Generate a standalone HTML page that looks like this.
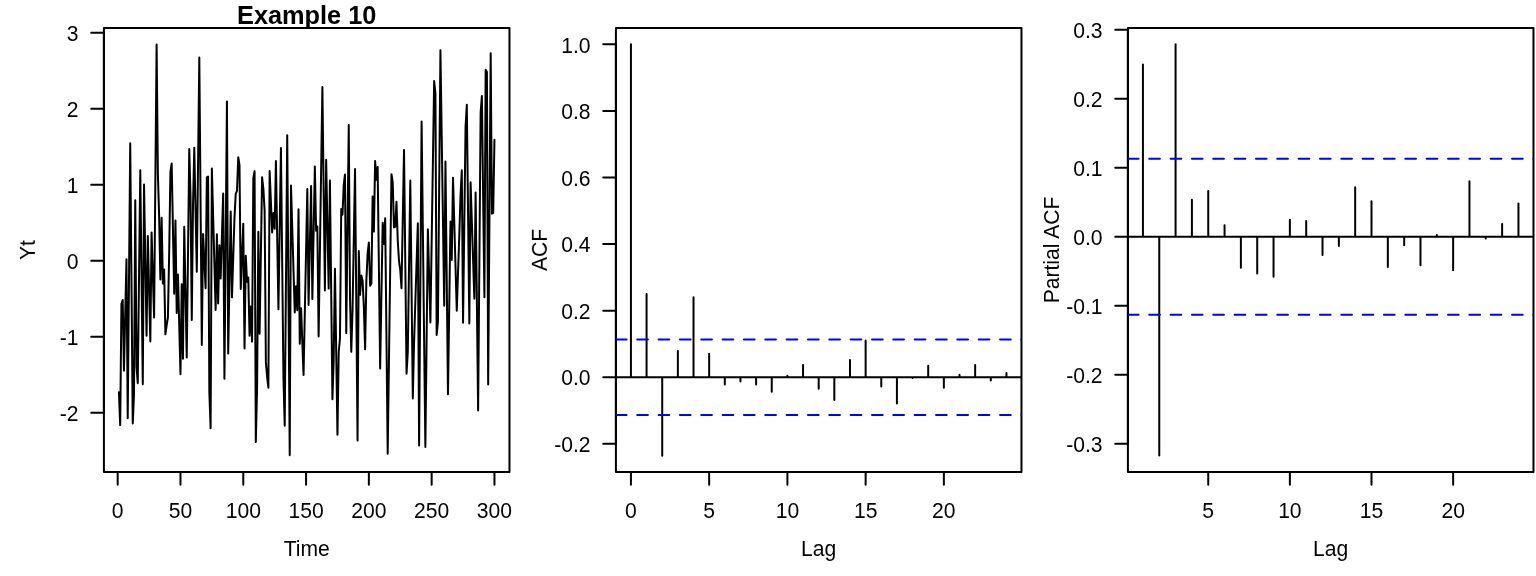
<!DOCTYPE html><html><head><meta charset="utf-8"><title>Example 10</title><style>html,body{margin:0;padding:0;background:#fff}svg{display:block}text{font-family:"Liberation Sans",sans-serif;fill:#000}</style></head><body>
<svg width="1536" height="576" viewBox="0 0 1536 576">
<rect width="1536" height="576" fill="#fff"/>
<defs><clipPath id="c0"><rect x="103.91" y="27.88" width="405.56" height="444.21"/></clipPath><clipPath id="c1"><rect x="615.91" y="27.88" width="405.56" height="444.21"/></clipPath><clipPath id="c2"><rect x="1127.91" y="27.88" width="405.56" height="444.21"/></clipPath></defs>
<g fill="none" stroke="#000" stroke-width="2" stroke-linecap="round" stroke-linejoin="round">
<rect x="103.91" y="27.88" width="405.56" height="444.21"/>
<path d="M117.68 472.09H494.45M117.68 472.09v12.67M180.47 472.09v12.67M243.27 472.09v12.67M306.06 472.09v12.67M368.86 472.09v12.67M431.65 472.09v12.67M494.45 472.09v12.67M103.91 412.80V32.80M103.91 412.80h-12.67M103.91 336.80h-12.67M103.91 260.80h-12.67M103.91 184.80h-12.67M103.91 108.80h-12.67M103.91 32.80h-12.67"/>
<path d="M118.93 392.36 L120.19 425.11 L121.44 303.74 L122.70 300.02 L123.95 370.62 L125.21 314.99 L126.47 259.36 L127.72 418.27 L128.98 280.75 L130.23 143.23 L131.49 283.37 L132.75 423.52 L134.00 394.56 L135.26 200.23 L136.51 367.20 L137.77 383.16 L139.03 276.76 L140.28 170.36 L141.54 277.25 L142.79 384.15 L144.05 184.50 L145.30 260.08 L146.56 335.66 L147.82 236.10 L149.07 288.84 L150.33 341.59 L151.58 232.38 L152.84 274.94 L154.10 317.50 L155.35 181.00 L156.61 44.50 L157.86 173.40 L159.12 215.20 L160.38 279.50 L161.63 217.63 L162.89 283.60 L164.14 269.39 L165.40 334.37 L166.66 325.02 L167.91 317.50 L169.17 253.20 L170.42 171.88 L171.68 163.52 L172.93 228.58 L174.19 293.63 L175.45 220.52 L176.70 313.01 L177.96 274.40 L179.21 324.37 L180.47 374.34 L181.73 284.36 L182.98 358.76 L184.24 226.75 L185.49 292.11 L186.75 357.47 L188.01 253.24 L189.26 149.00 L190.52 196.20 L191.77 320.00 L193.03 203.80 L194.28 147.79 L195.54 209.77 L196.80 271.74 L198.05 164.62 L199.31 57.50 L200.56 201.25 L201.82 345.01 L203.08 233.90 L204.33 261.07 L205.59 288.24 L206.84 177.35 L208.10 176.52 L209.36 393.04 L210.61 428.23 L211.87 168.46 L213.12 215.61 L214.38 262.75 L215.64 309.90 L216.89 234.28 L218.15 303.59 L219.40 245.22 L220.66 278.58 L221.91 236.10 L223.17 193.62 L224.43 378.75 L225.68 240.13 L226.94 101.50 L228.19 353.52 L229.45 282.46 L230.71 211.40 L231.96 297.36 L233.22 257.80 L234.47 218.24 L235.73 193.92 L236.99 190.88 L238.24 157.21 L239.50 165.04 L240.75 289.00 L242.01 256.32 L243.27 223.64 L244.52 348.50 L245.78 255.63 L247.03 281.78 L248.29 277.52 L249.54 335.66 L250.80 306.40 L252.06 341.59 L253.31 178.26 L254.57 171.12 L255.82 441.98 L257.08 388.48 L258.34 231.77 L259.59 333.76 L260.85 255.56 L262.10 177.35 L263.36 188.60 L264.62 210.64 L265.87 361.88 L267.13 377.08 L268.38 387.64 L269.64 171.12 L270.89 201.82 L272.15 232.53 L273.41 213.00 L274.66 228.73 L275.92 161.01 L277.17 235.11 L278.43 309.21 L279.69 228.61 L280.94 148.02 L282.20 262.93 L283.45 377.84 L284.71 425.72 L285.97 280.48 L287.22 135.25 L288.48 295.19 L289.73 455.13 L290.99 185.48 L292.25 227.79 L293.50 270.10 L294.76 312.40 L296.01 286.26 L297.27 310.20 L298.52 209.27 L299.78 343.72 L301.04 308.15 L302.29 341.59 L303.55 375.03 L304.80 313.01 L306.06 251.00 L307.32 188.98 L308.57 304.88 L309.83 245.49 L311.08 186.09 L312.34 299.03 L313.60 232.76 L314.85 166.48 L316.11 230.78 L317.36 226.52 L318.62 336.50 L319.87 253.33 L321.13 170.16 L322.39 86.99 L323.64 188.75 L324.90 290.52 L326.15 159.72 L327.41 224.17 L328.67 288.62 L329.92 180.47 L331.18 289.87 L332.43 399.27 L333.69 359.60 L334.95 268.78 L336.20 351.77 L337.46 434.76 L338.71 352.00 L339.97 338.32 L341.23 208.97 L342.48 214.74 L343.74 184.80 L344.99 174.46 L346.25 333.15 L347.50 229.07 L348.76 124.99 L350.02 298.80 L351.27 351.85 L352.53 310.20 L353.78 239.60 L355.04 168.99 L356.30 304.77 L357.55 440.54 L358.81 251.00 L360.06 294.85 L361.32 275.62 L362.58 280.56 L363.83 306.40 L365.09 349.34 L366.34 281.32 L367.60 253.96 L368.86 242.41 L370.11 285.73 L371.37 283.60 L372.62 196.50 L373.88 231.62 L375.13 161.01 L376.39 179.78 L377.65 167.02 L378.90 267.75 L380.16 368.49 L381.41 295.61 L382.67 222.72 L383.93 244.08 L385.18 218.24 L386.44 336.04 L387.69 453.84 L388.95 360.64 L390.21 267.44 L391.46 174.24 L392.72 182.52 L393.97 227.51 L395.23 226.60 L396.48 201.75 L397.74 240.28 L399.00 260.80 L400.25 269.92 L401.51 288.24 L402.76 219.11 L404.02 149.99 L405.28 261.86 L406.53 373.74 L407.79 352.00 L409.04 266.23 L410.30 180.47 L411.56 289.49 L412.81 398.51 L414.07 342.12 L415.32 302.50 L416.58 262.88 L417.84 223.26 L419.09 445.48 L420.35 283.49 L421.60 121.49 L422.86 229.99 L424.11 338.50 L425.37 447.00 L426.63 338.13 L427.88 229.26 L429.14 275.89 L430.39 322.51 L431.65 242.00 L432.91 161.49 L434.16 80.98 L435.42 93.60 L436.67 334.98 L437.93 321.60 L439.19 185.94 L440.44 50.28 L441.70 135.43 L442.95 220.57 L444.21 305.72 L445.46 161.47 L446.72 277.86 L447.98 394.26 L449.23 307.88 L450.49 221.51 L451.74 259.89 L453.00 177.73 L454.26 222.07 L455.51 266.40 L456.77 310.73 L458.02 273.23 L459.28 235.72 L460.54 194.68 L461.79 170.36 L463.05 322.74 L464.30 224.51 L465.56 126.28 L466.82 104.77 L468.07 214.14 L469.33 323.50 L470.58 182.37 L471.84 221.13 L473.09 259.89 L474.35 298.65 L475.61 192.40 L476.86 301.46 L478.12 410.52 L479.37 261.56 L480.63 112.60 L481.89 96.03 L483.14 196.69 L484.40 297.36 L485.65 69.74 L486.91 72.02 L488.17 384.38 L489.42 218.81 L490.68 53.24 L491.93 213.68 L493.19 212.92 L494.45 139.73"/>
<rect x="615.91" y="27.88" width="405.56" height="444.21"/>
<path d="M630.93 472.09H943.86M630.93 472.09v12.67M709.16 472.09v12.67M787.40 472.09v12.67M865.63 472.09v12.67M943.86 472.09v12.67M615.91 443.83V44.35M615.91 443.83h-12.67M615.91 377.25h-12.67M615.91 310.67h-12.67M615.91 244.09h-12.67M615.91 177.51h-12.67M615.91 110.93h-12.67M615.91 44.35h-12.67"/>
<path clip-path="url(#c1)" d="M630.93 377.25V44.35M646.58 377.25V294.09M662.22 377.25V455.65M677.87 377.25V350.95M693.52 377.25V297.25M709.16 377.25V353.75M724.81 377.25V384.57M740.46 377.25V381.51M756.10 377.25V384.57M771.75 377.25V391.76M787.40 377.25V375.75M803.04 377.25V365.00M818.69 377.25V388.74M834.33 377.25V399.99M849.98 377.25V360.01M865.63 377.25V340.40M881.27 377.25V386.50M896.92 377.25V403.38M912.57 377.25V377.92M928.21 377.25V365.76M943.86 377.25V387.74M959.51 377.25V374.85M975.15 377.25V365.00M990.80 377.25V380.51M1006.45 377.25V372.92M615.91 377.25H1021.47"/>
<rect x="1127.91" y="27.88" width="405.56" height="444.21"/>
<path d="M1208.24 472.09H1453.14M1208.24 472.09v12.67M1289.87 472.09v12.67M1371.50 472.09v12.67M1453.14 472.09v12.67M1127.91 443.75V29.75M1127.91 443.75h-12.67M1127.91 374.75h-12.67M1127.91 305.75h-12.67M1127.91 236.75h-12.67M1127.91 167.75h-12.67M1127.91 98.75h-12.67M1127.91 29.75h-12.67"/>
<path clip-path="url(#c2)" d="M1142.93 236.75V64.53M1159.26 236.75V455.62M1175.58 236.75V44.31M1191.91 236.75V199.70M1208.24 236.75V191.00M1224.56 236.75V225.30M1240.89 236.75V267.80M1257.22 236.75V273.53M1273.54 236.75V276.77M1289.87 236.75V219.78M1306.20 236.75V221.02M1322.52 236.75V255.03M1338.85 236.75V246.06M1355.18 236.75V187.21M1371.50 236.75V201.28M1387.83 236.75V266.97M1404.16 236.75V245.17M1420.48 236.75V265.32M1436.81 236.75V235.03M1453.14 236.75V270.22M1469.46 236.75V181.27M1485.79 236.75V238.47M1502.12 236.75V223.99M1518.45 236.75V203.49M1127.91 236.75H1533.47"/>
</g>
<g fill="none" stroke="#0000ff" stroke-width="2" stroke-linecap="round" stroke-dasharray="10.67 10.67">
<path clip-path="url(#c1)" d="M615.91 339.58H1021.47M615.91 414.92H1021.47"/>
<path clip-path="url(#c2)" d="M1127.91 158.67H1533.47M1127.91 314.83H1533.47"/>
</g>
<g style="will-change:transform">
<text transform="translate(117.68 518.2) scale(1 1.055)" text-anchor="middle" font-size="21.12">0</text>
<text transform="translate(180.47 518.2) scale(1 1.055)" text-anchor="middle" font-size="21.12">50</text>
<text transform="translate(243.27 518.2) scale(1 1.055)" text-anchor="middle" font-size="21.12">100</text>
<text transform="translate(306.06 518.2) scale(1 1.055)" text-anchor="middle" font-size="21.12">150</text>
<text transform="translate(368.86 518.2) scale(1 1.055)" text-anchor="middle" font-size="21.12">200</text>
<text transform="translate(431.65 518.2) scale(1 1.055)" text-anchor="middle" font-size="21.12">250</text>
<text transform="translate(494.45 518.2) scale(1 1.055)" text-anchor="middle" font-size="21.12">300</text>
<text transform="translate(78.57 421.00) scale(1 1.055)" text-anchor="end" font-size="21.12">-2</text>
<text transform="translate(78.57 345.00) scale(1 1.055)" text-anchor="end" font-size="21.12">-1</text>
<text transform="translate(78.57 269.00) scale(1 1.055)" text-anchor="end" font-size="21.12">0</text>
<text transform="translate(78.57 193.00) scale(1 1.055)" text-anchor="end" font-size="21.12">1</text>
<text transform="translate(78.57 117.00) scale(1 1.055)" text-anchor="end" font-size="21.12">2</text>
<text transform="translate(78.57 41.00) scale(1 1.055)" text-anchor="end" font-size="21.12">3</text>
<text transform="translate(306.69 556.4) scale(1 1.055)" text-anchor="middle" font-size="21.12">Time</text>
<text transform="translate(34.98 249.98) rotate(-90) scale(1 1.055)" text-anchor="middle" font-size="21.12">Yt</text>
<text transform="translate(630.93 518.2) scale(1 1.055)" text-anchor="middle" font-size="21.12">0</text>
<text transform="translate(709.16 518.2) scale(1 1.055)" text-anchor="middle" font-size="21.12">5</text>
<text transform="translate(787.40 518.2) scale(1 1.055)" text-anchor="middle" font-size="21.12">10</text>
<text transform="translate(865.63 518.2) scale(1 1.055)" text-anchor="middle" font-size="21.12">15</text>
<text transform="translate(943.86 518.2) scale(1 1.055)" text-anchor="middle" font-size="21.12">20</text>
<text transform="translate(590.57 452.03) scale(1 1.055)" text-anchor="end" font-size="21.12">-0.2</text>
<text transform="translate(590.57 385.45) scale(1 1.055)" text-anchor="end" font-size="21.12">0.0</text>
<text transform="translate(590.57 318.87) scale(1 1.055)" text-anchor="end" font-size="21.12">0.2</text>
<text transform="translate(590.57 252.29) scale(1 1.055)" text-anchor="end" font-size="21.12">0.4</text>
<text transform="translate(590.57 185.71) scale(1 1.055)" text-anchor="end" font-size="21.12">0.6</text>
<text transform="translate(590.57 119.13) scale(1 1.055)" text-anchor="end" font-size="21.12">0.8</text>
<text transform="translate(590.57 52.55) scale(1 1.055)" text-anchor="end" font-size="21.12">1.0</text>
<text transform="translate(818.69 556.4) scale(1 1.055)" text-anchor="middle" font-size="21.12">Lag</text>
<text transform="translate(546.98 249.98) rotate(-90) scale(1 1.055)" text-anchor="middle" font-size="21.12">ACF</text>
<text transform="translate(1208.24 518.2) scale(1 1.055)" text-anchor="middle" font-size="21.12">5</text>
<text transform="translate(1289.87 518.2) scale(1 1.055)" text-anchor="middle" font-size="21.12">10</text>
<text transform="translate(1371.50 518.2) scale(1 1.055)" text-anchor="middle" font-size="21.12">15</text>
<text transform="translate(1453.14 518.2) scale(1 1.055)" text-anchor="middle" font-size="21.12">20</text>
<text transform="translate(1102.57 451.95) scale(1 1.055)" text-anchor="end" font-size="21.12">-0.3</text>
<text transform="translate(1102.57 382.95) scale(1 1.055)" text-anchor="end" font-size="21.12">-0.2</text>
<text transform="translate(1102.57 313.95) scale(1 1.055)" text-anchor="end" font-size="21.12">-0.1</text>
<text transform="translate(1102.57 244.95) scale(1 1.055)" text-anchor="end" font-size="21.12">0.0</text>
<text transform="translate(1102.57 175.95) scale(1 1.055)" text-anchor="end" font-size="21.12">0.1</text>
<text transform="translate(1102.57 106.95) scale(1 1.055)" text-anchor="end" font-size="21.12">0.2</text>
<text transform="translate(1102.57 37.95) scale(1 1.055)" text-anchor="end" font-size="21.12">0.3</text>
<text transform="translate(1330.69 556.4) scale(1 1.055)" text-anchor="middle" font-size="21.12">Lag</text>
<text transform="translate(1058.98 249.98) rotate(-90) scale(1 1.055)" text-anchor="middle" font-size="21.12">Partial ACF</text>
<text x="306.69" y="23.7" text-anchor="middle" font-size="25.34" font-weight="bold">Example 10</text>
</g>
</svg></body></html>
